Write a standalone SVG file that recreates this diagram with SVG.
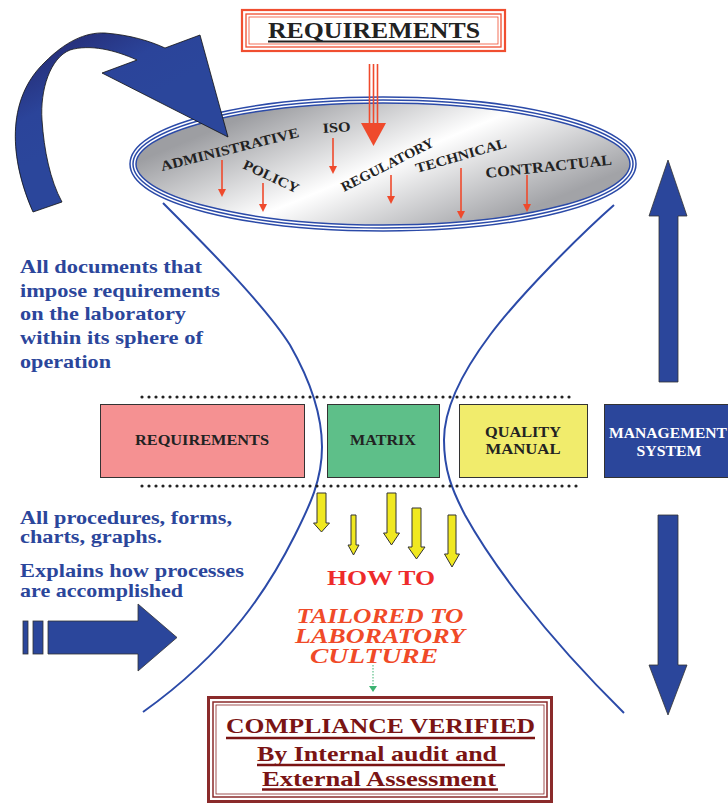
<svg xmlns="http://www.w3.org/2000/svg" width="728" height="804" viewBox="0 0 728 804">
<defs>
<linearGradient id="disc" gradientUnits="userSpaceOnUse" x1="345" y1="75" x2="420" y2="255">
<stop offset="0" stop-color="#9d9ea2"/>
<stop offset="0.5" stop-color="#ffffff"/>
<stop offset="1" stop-color="#a2a3a7"/>
</linearGradient>
<linearGradient id="ribbon" gradientUnits="userSpaceOnUse" x1="40" y1="40" x2="90" y2="130">
<stop offset="0" stop-color="#252a72"/>
<stop offset="0.6" stop-color="#2b449a"/>
<stop offset="1" stop-color="#2b469b"/>
</linearGradient>
</defs>
<style>
.serif{font-family:"Liberation Serif","Times New Roman",serif;font-weight:bold}
.lbl{font-size:19px;fill:#2b469b}
.disc{font-size:14px;fill:#222}
.box{stroke:#333;stroke-width:1}
.yel{fill:#f0e820;stroke:#333;stroke-width:1}
.blu{fill:#2b469b;stroke:#333;stroke-width:0.8}
.redarr{stroke:#ef4a2c;stroke-width:1.6;fill:none}
.redhead{fill:#ef4a2c}
.funnel{fill:none;stroke:#2b4aa8;stroke-width:2}
.dots{stroke:#222;stroke-width:3.2;stroke-linecap:round;stroke-dasharray:0 7}
.comp{font-size:22px;fill:#7a1414}
.ul{stroke:#7a1414;stroke-width:2.4}
</style>

<g id="connectors">
<path class="funnel" d="M163,203 C200,240 265,305 290,345 C310,380 322,415 322,447 C322,480 310,505 295,535 C270,585 230,650 143,712"/>
<path class="funnel" d="M614,205 C580,235 520,295 490,335 C460,375 444,410 444,440 C444,470 452,490 465,515 C490,560 540,630 624,713"/>
<line class="dots" x1="142" y1="397" x2="574" y2="397"/>
<line class="dots" x1="142" y1="486" x2="580" y2="486"/>
</g>

<g id="disc-group">
<ellipse cx="383" cy="164" rx="250" ry="64" fill="url(#disc)"/>
<ellipse cx="383" cy="164" rx="250" ry="64" fill="none" stroke="#2b4aa8" stroke-width="7.5"/>
<ellipse cx="383" cy="164" rx="250" ry="64" fill="none" stroke="#ffffff" stroke-width="4.5"/>
<ellipse cx="383" cy="164" rx="250" ry="64" fill="none" stroke="#2b4aa8" stroke-width="1.5"/>
<g class="serif disc">
<text transform="translate(162,171) rotate(-14)" textLength="142" lengthAdjust="spacingAndGlyphs">ADMINISTRATIVE</text>
<text transform="translate(323,133) rotate(-4)" textLength="28" lengthAdjust="spacingAndGlyphs">ISO</text>
<text transform="translate(242,168) rotate(25)" textLength="60" lengthAdjust="spacingAndGlyphs">POLICY</text>
<text transform="translate(344,192) rotate(-27)" textLength="102" lengthAdjust="spacingAndGlyphs">REGULATORY</text>
<text transform="translate(417,173) rotate(-16)" textLength="94" lengthAdjust="spacingAndGlyphs">TECHNICAL</text>
<text transform="translate(486,178) rotate(-6)" font-size="15" textLength="127" lengthAdjust="spacingAndGlyphs">CONTRACTUAL</text>
</g>
<g id="small-arrows">
<line class="redarr" x1="222" y1="160" x2="222" y2="190"/><polygon class="redhead" points="218,189 226,189 222,197"/>
<line class="redarr" x1="263" y1="183" x2="263" y2="205"/><polygon class="redhead" points="259,204 267,204 263,212"/>
<line class="redarr" x1="333" y1="138" x2="333" y2="167"/><polygon class="redhead" points="329,166 337,166 333,174"/>
<line class="redarr" x1="391" y1="175" x2="391" y2="197"/><polygon class="redhead" points="387,196 395,196 391,204"/>
<line class="redarr" x1="461" y1="168" x2="461" y2="212"/><polygon class="redhead" points="457,211 465,211 461,219"/>
<line class="redarr" x1="527" y1="175" x2="527" y2="205"/><polygon class="redhead" points="523,204 531,204 527,212"/>
</g>
</g>

<g id="curved-arrow">
<path d="M33,212 C10,160 5,100 45,62 C65,42 85,32 105,33 C130,35 150,41 165,48 L200,35 L228,137 L102,73 L137,60 C115,50 90,44 70,50 C50,58 40,90 42,120 C44,150 50,180 62,202 Z" fill="url(#ribbon)" stroke="#111" stroke-width="0.8"/>
</g>

<g id="requirements-top">
<rect x="242" y="10" width="263" height="41" fill="#fff" stroke="#f04e30" stroke-width="2.2"/>
<rect x="246" y="14" width="255" height="33" fill="none" stroke="#f04e30" stroke-width="1.3"/>
<rect x="249" y="17" width="249" height="27" fill="none" stroke="#f04e30" stroke-width="0.8"/>
<text class="serif" x="374" y="38" font-size="23" fill="#222" text-anchor="middle" textLength="212" lengthAdjust="spacingAndGlyphs">REQUIREMENTS</text>
<line x1="268" y1="41.5" x2="480" y2="41.5" stroke="#222" stroke-width="2"/>
</g>

<g id="req-arrow">
<line x1="369.5" y1="64" x2="369.5" y2="125" stroke="#ef4a2c" stroke-width="1.6"/>
<line x1="373.5" y1="64" x2="373.5" y2="125" stroke="#ef4a2c" stroke-width="1.6"/>
<line x1="377.5" y1="64" x2="377.5" y2="125" stroke="#ef4a2c" stroke-width="1.6"/>
<polygon points="361,123 386,123 373.5,146" fill="#ef4a2c"/>
</g>

<g id="text-documents" class="serif lbl">
<text x="20" y="273" textLength="182" lengthAdjust="spacingAndGlyphs">All documents  that</text>
<text x="20" y="297" textLength="200" lengthAdjust="spacingAndGlyphs">impose  requirements</text>
<text x="20" y="320" textLength="166" lengthAdjust="spacingAndGlyphs">on the laboratory</text>
<text x="20" y="344" textLength="183" lengthAdjust="spacingAndGlyphs">within its sphere of</text>
<text x="20" y="368" textLength="91" lengthAdjust="spacingAndGlyphs">operation</text>
</g>

<g id="text-procedures" class="serif lbl">
<text x="20" y="524" textLength="212" lengthAdjust="spacingAndGlyphs">All procedures, forms,</text>
<text x="20" y="543" textLength="142" lengthAdjust="spacingAndGlyphs">charts, graphs.</text>
<text x="20" y="577" textLength="224" lengthAdjust="spacingAndGlyphs">Explains how processes</text>
<text x="20" y="597" textLength="163" lengthAdjust="spacingAndGlyphs">are accomplished</text>
</g>

<g id="box-requirements">
<rect class="box" x="100.5" y="404.5" width="204" height="73" fill="#f59192"/>
<text class="serif" x="202" y="445" font-size="14" fill="#222" text-anchor="middle" textLength="134" lengthAdjust="spacingAndGlyphs">REQUIREMENTS</text>
</g>
<g id="box-matrix">
<rect class="box" x="327.5" y="404.5" width="112" height="73" fill="#5ebf89"/>
<text class="serif" x="383" y="445" font-size="14" fill="#222" text-anchor="middle" textLength="66" lengthAdjust="spacingAndGlyphs">MATRIX</text>
</g>
<g id="box-quality">
<rect class="box" x="459.5" y="404.5" width="128" height="73" fill="#f1ec6c"/>
<text class="serif" x="523" y="437" font-size="14" fill="#222" text-anchor="middle" textLength="76" lengthAdjust="spacingAndGlyphs">QUALITY</text>
<text class="serif" x="523" y="454" font-size="14" fill="#222" text-anchor="middle" textLength="75" lengthAdjust="spacingAndGlyphs">MANUAL</text>
</g>
<g id="box-management">
<rect class="box" x="604.5" y="404.5" width="130" height="73" fill="#2b469b"/>
<text class="serif" x="668" y="438" font-size="14" fill="#fff" text-anchor="middle" textLength="118" lengthAdjust="spacingAndGlyphs">MANAGEMENT</text>
<text class="serif" x="669" y="456" font-size="14" fill="#fff" text-anchor="middle" textLength="65" lengthAdjust="spacingAndGlyphs">SYSTEM</text>
</g>

<g id="yellow-arrows">
<polygon class="yel" points="317,493 326,493 326,523 329.5,523 321.5,532 313.5,523 317,523"/>
<polygon class="yel" points="351,515 356,515 356,545 359,545 353.5,555 348,545 351,545"/>
<polygon class="yel" points="387,493 396,493 396,533 399.5,533 391.5,545 383.5,533 387,533"/>
<polygon class="yel" points="412,508 421,508 421,547 425,547 416.5,559 408,547 412,547"/>
<polygon class="yel" points="448,515 456,515 456,554 459.5,554 452,567 444.5,554 448,554"/>
</g>

<g id="how-to">
<text class="serif" x="381" y="585" font-size="22" fill="#ee2b2b" text-anchor="middle" textLength="108" lengthAdjust="spacingAndGlyphs">HOW TO</text>
<g class="serif" font-size="20" font-style="italic" fill="#f04a28" text-anchor="middle">
<text x="380" y="623" textLength="167" lengthAdjust="spacingAndGlyphs">TAILORED TO</text>
<text x="380" y="643" textLength="170" lengthAdjust="spacingAndGlyphs">LABORATORY</text>
<text x="374" y="663" textLength="128" lengthAdjust="spacingAndGlyphs">CULTURE</text>
</g>
</g>

<g id="green-arrow">
<line x1="373" y1="665" x2="373" y2="686" stroke="#3cb371" stroke-width="1" stroke-dasharray="1.5,1.5"/>
<polygon points="369,686 377,686 373,692" fill="#3cb371"/>
</g>

<g id="up-arrow"><polygon class="blu" points="659,382 678,382 678,216 687,216 668,160 649,216 659,216"/></g>
<g id="down-arrow"><polygon class="blu" points="658,515 678,515 678,665 687,665 668,715 649,665 658,665"/></g>
<g id="left-arrow">
<rect class="blu" x="23" y="621" width="5" height="33"/>
<rect class="blu" x="33" y="621" width="10" height="33"/>
<polygon class="blu" points="48,621 138,621 138,604 177,637.5 138,671 138,654 48,654"/>
</g>

<g id="compliance">
<rect x="208.5" y="697.5" width="343" height="104" fill="#fff" stroke="#8a2a2a" stroke-width="3"/>
<rect x="213" y="702" width="334" height="95" fill="none" stroke="#8a2a2a" stroke-width="1.5"/>
<rect x="216" y="705" width="328" height="89" fill="none" stroke="#8a2a2a" stroke-width="0.8"/>
<text class="serif comp" x="380.5" y="733" text-anchor="middle" textLength="309" lengthAdjust="spacingAndGlyphs">COMPLIANCE VERIFIED</text>
<line class="ul" x1="226" y1="738" x2="535" y2="738"/>
<text class="serif comp" x="257" y="761" textLength="240" lengthAdjust="spacingAndGlyphs">By Internal  audit and</text>
<line class="ul" x1="257" y1="765" x2="505" y2="765"/>
<text class="serif comp" x="262" y="786" textLength="234" lengthAdjust="spacingAndGlyphs">External  Assessment</text>
<line class="ul" x1="262" y1="789.5" x2="498" y2="789.5"/>
</g>
</svg>
